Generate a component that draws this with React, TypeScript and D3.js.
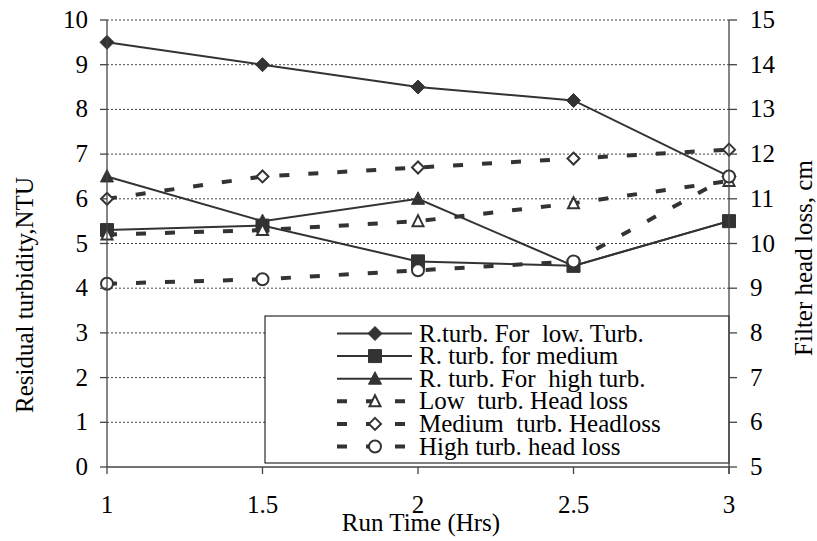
import React from "react";
import * as d3 from "d3";

const runTime = [1, 1.5, 2, 2.5, 3];
const rTurbLow = [9.5, 9.0, 8.5, 8.2, 6.5];
const rTurbMedium = [5.3, 5.4, 4.6, 4.5, 5.5];
const rTurbHigh = [6.5, 5.5, 6.0, 4.5, 5.5];
const headLossLow = [10.2, 10.3, 10.5, 10.9, 11.4];
const headLossMedium = [11.0, 11.5, 11.7, 11.9, 12.1];
const headLossHigh = [9.1, 9.2, 9.4, 9.6, 11.5];

const leftTicks = [0, 1, 2, 3, 4, 5, 6, 7, 8, 9, 10];
const rightTicks = [5, 6, 7, 8, 9, 10, 11, 12, 13, 14, 15];
const xTicks = [1, 1.5, 2, 2.5, 3];

const W = 817;
const H = 541;
const X0 = 107;
const X1 = 729;
const Y0 = 467;
const Y1 = 20;
const FONT = "Liberation Serif, serif";
const INK = "#333";
const FS = 25;

type Shape = "diamond" | "square" | "triangle" | "circle";

function markerPath(shape: Shape, open: boolean): string {
  if (shape === "diamond") return open ? "M0,-6L6,0L0,6L-6,0Z" : "M0,-7L7,0L0,7L-7,0Z";
  if (shape === "square") return "M-6.5,-6.5L6.5,-6.5L6.5,6.5L-6.5,6.5Z";
  if (shape === "triangle") return open ? "M0,-6L5.5,5L-5.5,5Z" : "M0,-7L6.5,5.5L-6.5,5.5Z";
  return "";
}

function Marker({ x, y, shape, open }: { x: number; y: number; shape: Shape; open: boolean }) {
  const fill = open ? "#fff" : INK;
  const sw = open ? 2 : 1;
  if (shape === "circle") {
    return <circle cx={x} cy={y} r={6} fill={fill} stroke={INK} strokeWidth={sw} />;
  }
  return <path d={markerPath(shape, open)} transform={`translate(${x},${y})`} fill={fill} stroke={INK} strokeWidth={sw} />;
}

type Series = {
  name: string;
  values: number[];
  axis: "left" | "right";
  shape: Shape;
  open: boolean;
  dashed: boolean;
};

const series: Series[] = [
  { name: "R.turb. For  low. Turb.", values: rTurbLow, axis: "left", shape: "diamond", open: false, dashed: false },
  { name: "R. turb. for medium", values: rTurbMedium, axis: "left", shape: "square", open: false, dashed: false },
  { name: "R. turb. For  high turb.", values: rTurbHigh, axis: "left", shape: "triangle", open: false, dashed: false },
  { name: "Low  turb. Head loss", values: headLossLow, axis: "right", shape: "triangle", open: true, dashed: true },
  { name: "Medium  turb. Headloss", values: headLossMedium, axis: "right", shape: "diamond", open: true, dashed: true },
  { name: "High turb. head loss", values: headLossHigh, axis: "right", shape: "circle", open: true, dashed: true },
];

const txt: React.CSSProperties = { fontFamily: FONT, whiteSpace: "pre" };

export default function App() {
  const x = d3.scaleLinear().domain([1, 3]).range([X0, X1]);
  const yL = d3.scaleLinear().domain([0, 10]).range([Y0, Y1]);
  const yR = d3.scaleLinear().domain([5, 15]).range([Y0, Y1]);

  const legX = 265;
  const legY = 316;
  const legW = X1 - legX;
  const legH = 147;
  const rowY0 = 333.5;
  const rowStep = 22.6;
  const off = 8;

  return (
    <svg width={W} height={H} style={{ position: "absolute", left: 0, top: 0, background: "#fff" }}>
      <rect x={0} y={0} width={W} height={H} fill="#fff" />
      {leftTicks.filter((t) => t > 0).map((t) => (
        <line key={"g" + t} x1={X0} x2={X1} y1={yL(t)} y2={yL(t)} stroke="#444" strokeWidth={1} strokeDasharray="2,2" />
      ))}
      {series.map((s, i) => {
        const ys = s.axis === "left" ? yL : yR;
        const line = d3
          .line<number>()
          .x((_, j) => x(runTime[j]))
          .y((v) => ys(v));
        return (
          <g key={"s" + i}>
            <path
              d={line(s.values) || ""}
              fill="none"
              stroke={INK}
              strokeWidth={s.dashed ? 4 : 2}
              strokeDasharray={s.dashed ? "10,19" : undefined}
            />
            {s.values.map((v, j) => (
              <Marker key={j} x={x(runTime[j])} y={ys(v)} shape={s.shape} open={s.open} />
            ))}
          </g>
        );
      })}
      <rect x={legX} y={legY} width={legW} height={legH} fill="#fff" stroke="#000" strokeWidth={1} />
      {series.map((s, i) => {
        const cy = rowY0 + i * rowStep;
        return (
          <g key={"l" + i}>
            <line x1={337} x2={412} y1={cy} y2={cy} stroke={INK} strokeWidth={s.dashed ? 4 : 2} strokeDasharray={s.dashed ? "10,19" : undefined} />
            <Marker x={375} y={cy} shape={s.shape} open={s.open} />
            <text x={419} y={cy + off} fontSize={FS} fill="#000" style={txt}>
              {s.name}
            </text>
          </g>
        );
      })}
      <line x1={X0} x2={X0} y1={Y1} y2={Y0} stroke="#444" strokeWidth={1.3} />
      <line x1={X1} x2={X1} y1={Y1} y2={Y0 + 7} stroke="#444" strokeWidth={1.3} />
      <line x1={X0} x2={X1} y1={Y0} y2={Y0} stroke="#444" strokeWidth={1.3} />
      {leftTicks.map((t) => (
        <g key={"lt" + t}>
          <line x1={X0 - 7} x2={X0} y1={yL(t)} y2={yL(t)} stroke="#444" strokeWidth={1.3} />
          <text x={88} y={yL(t) + off} textAnchor="end" fontSize={FS} fill="#000" style={txt}>
            {t}
          </text>
        </g>
      ))}
      {rightTicks.map((t) => (
        <g key={"rt" + t}>
          <line x1={X1} x2={X1 + 8} y1={yR(t)} y2={yR(t)} stroke="#444" strokeWidth={1.3} />
          <text x={750} y={yR(t) + off} textAnchor="start" fontSize={FS} fill="#000" style={txt}>
            {t}
          </text>
        </g>
      ))}
      {xTicks.map((t) => (
        <g key={"xt" + t}>
          <line x1={x(t)} x2={x(t)} y1={Y0} y2={Y0 + 7} stroke="#444" strokeWidth={1.3} />
          <text x={x(t)} y={513} textAnchor="middle" fontSize={FS} fill="#000" style={txt}>
            {t}
          </text>
        </g>
      ))}
      <text x={421} y={531} textAnchor="middle" fontSize={FS} fill="#000" style={txt}>
        Run Time (Hrs)
      </text>
      <text transform="translate(33,295) rotate(-90)" textAnchor="middle" fontSize={FS} fill="#000" style={txt}>
        Residual turbidity,NTU
      </text>
      <text transform="translate(812,258) rotate(-90)" textAnchor="middle" fontSize={FS} fill="#000" style={txt}>
        Filter head loss, cm
      </text>
    </svg>
  );
}
